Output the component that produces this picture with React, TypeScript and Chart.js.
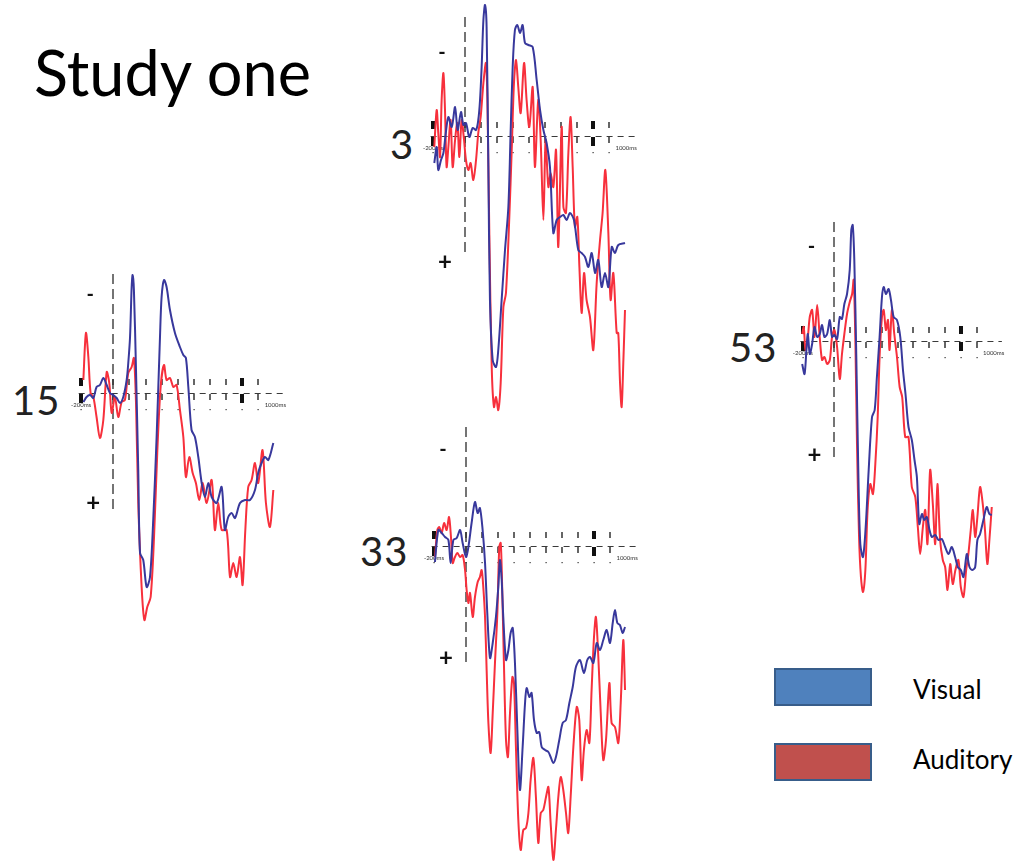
import React, { useEffect, useRef } from "react";
import { Chart, registerables } from "chart.js";
Chart.register(...registerables);

// ---- data: [time in ms, amplitude in µV] (negative plotted up) ----
const p15Visual: [number, number][] = [[-186,0.9],[-166,0.4],[-145,0.2],[-124,0.5],[-104,-0.6],[-83,-0.8],[-62,-1.5],[-41,-0.8],[-21,0.0],[0,0.2],[21,0.5],[41,1.0],[62,0.4],[83,-1.3],[93,-3.0],[104,-5.6],[114,-10.6],[120,-11.8],[128,-10.3],[141,-2.3],[155,7.7],[166,16.0],[186,16.7],[207,19.4],[228,18.4],[248,12.7],[269,4.4],[290,-5.6],[300,-9.6],[315,-11.3],[331,-10.6],[352,-8.3],[383,-6.0],[414,-4.6],[435,-3.8],[451,-3.5],[466,-0.6],[486,3.7],[507,4.4],[528,6.4],[549,9.0],[569,10.4],[590,9.0],[611,10.4],[642,11.0],[673,9.4],[693,13.7],[714,12.4],[735,12.0],[756,12.5],[787,11.0],[818,10.7],[849,10.7],[880,9.7],[900,8.0],[921,7.0],[942,6.4],[963,6.7],[994,5.0]];
const p15Auditory: [number, number][] = [[-186,-1.3],[-170,-6.0],[-155,-3.6],[-141,0.0],[-124,0.4],[-104,2.4],[-83,4.5],[-62,2.7],[-41,-2.1],[-25,-1.0],[-10,2.0],[10,0.4],[31,2.4],[52,0.9],[72,0.7],[93,-2.0],[114,-2.6],[128,-3.5],[141,1.0],[155,11.0],[176,19.4],[193,22.7],[211,21.4],[232,20.4],[253,14.4],[273,6.0],[294,-0.6],[315,-2.8],[331,-1.3],[352,-1.5],[373,-0.6],[393,-0.8],[414,1.7],[435,4.4],[451,8.4],[472,6.4],[493,8.0],[513,9.0],[534,10.7],[555,9.0],[580,11.0],[611,8.7],[631,13.7],[652,11.0],[673,13.7],[704,13.7],[725,18.4],[745,17.0],[766,18.4],[787,16.4],[803,19.2],[820,13.7],[838,9.4],[859,8.7],[880,7.0],[900,9.0],[927,5.7],[948,11.0],[973,13.4],[994,9.7]];

const p3Visual: [number, number][] = [[-192,2.7],[-177,1.1],[-167,3.4],[-150,2.4],[-135,1.7],[-120,-0.3],[-104,-1.9],[-83,-0.9],[-62,-2.9],[-46,-0.6],[-25,-2.4],[-10,-1.1],[6,-1.3],[27,0.1],[48,-0.8],[69,-0.6],[83,-1.6],[94,-3.6],[104,-6.9],[115,-11.6],[125,-13.1],[135,-10.9],[146,3.1],[156,16.4],[173,22.4],[194,23.1],[208,21.4],[229,16.4],[250,11.4],[271,7.1],[285,-0.3],[298,-6.9],[312,-10.6],[327,-11.1],[344,-10.3],[360,-11.1],[375,-9.3],[396,-9.1],[423,-8.9],[448,-5.6],[469,-2.6],[490,-0.6],[510,0.7],[531,3.1],[552,9.7],[573,8.4],[594,8.1],[615,7.9],[635,8.4],[656,7.7],[681,8.4],[708,11.4],[729,11.7],[750,12.1],[771,13.1],[792,11.7],[813,13.7],[833,12.4],[854,15.1],[875,13.7],[896,15.1],[917,11.1],[937,11.7],[958,10.9],[1000,10.7]];
const p3Auditory: [number, number][] = [[-192,1.1],[-177,-2.6],[-167,-0.3],[-156,2.1],[-146,-3.6],[-135,-6.3],[-125,-2.6],[-115,3.1],[-104,1.1],[-90,-1.6],[-77,3.1],[-62,0.4],[-48,-1.3],[-35,2.1],[-21,-1.6],[-6,0.4],[6,2.4],[21,3.4],[35,2.7],[52,4.4],[69,2.4],[83,-0.3],[98,-1.9],[115,-5.3],[131,-7.3],[140,-3.6],[152,9.7],[167,23.1],[181,27.1],[194,26.1],[208,27.4],[223,24.7],[240,17.1],[256,15.7],[277,8.1],[292,1.4],[306,-5.3],[319,-7.6],[333,-4.9],[348,-2.3],[369,-7.3],[385,-3.6],[402,-0.9],[423,-4.9],[437,3.1],[458,-3.6],[473,0.4],[490,8.4],[504,0.4],[521,5.1],[535,3.7],[552,5.1],[569,1.4],[583,11.1],[604,-0.9],[615,7.1],[631,7.7],[646,1.7],[660,-1.9],[673,3.1],[687,9.1],[702,8.1],[715,13.1],[729,17.7],[744,13.7],[760,16.4],[781,18.1],[802,21.4],[823,14.7],[844,10.4],[860,7.7],[877,3.4],[896,9.7],[910,16.4],[927,13.7],[948,19.7],[958,19.7],[969,24.7],[979,27.1],[990,22.4],[1000,17.4]];

const p33Visual: [number, number][] = [[-194,1.6],[-173,-1.6],[-152,-1.3],[-131,-0.9],[-110,-0.6],[-96,1.7],[-79,-0.6],[-58,-0.8],[-37,-1.6],[-21,-0.3],[0,1.1],[15,0.1],[35,-2.3],[56,-4.4],[73,-3.3],[87,-3.8],[104,-1.6],[119,1.7],[133,6.7],[150,11.2],[167,9.7],[187,7.1],[202,4.1],[212,1.4],[223,3.4],[233,7.1],[250,11.4],[265,10.4],[279,8.7],[292,8.2],[306,11.7],[321,18.4],[337,24.4],[354,20.1],[369,15.7],[379,14.2],[396,15.1],[410,14.7],[425,17.4],[442,18.7],[458,18.6],[473,20.1],[494,20.4],[515,20.6],[529,21.1],[546,21.7],[562,21.1],[583,19.4],[604,17.7],[625,17.4],[646,15.7],[667,14.1],[687,12.1],[712,11.4],[737,12.7],[758,11.4],[775,11.1],[796,11.7],[817,9.7],[837,10.4],[858,9.4],[879,8.4],[900,9.7],[917,7.7],[931,6.4],[946,7.7],[962,7.9],[979,8.7],[994,8.1]];
const p33Auditory: [number, number][] = [[-194,1.1],[-179,-1.6],[-167,-1.9],[-152,-1.3],[-137,-2.3],[-121,-1.6],[-106,-2.9],[-94,-0.9],[-83,1.7],[-69,1.1],[-54,0.7],[-37,1.1],[-21,0.9],[-6,2.4],[4,4.4],[15,5.7],[25,4.7],[42,7.1],[56,5.1],[73,3.6],[87,3.1],[98,2.4],[108,4.1],[119,7.1],[129,12.4],[140,17.7],[154,20.7],[167,16.7],[181,11.7],[196,6.7],[208,0.1],[217,-0.3],[225,3.4],[237,11.7],[250,19.4],[262,21.1],[275,16.7],[290,13.1],[300,13.7],[312,20.1],[327,27.4],[342,30.4],[358,28.4],[375,28.2],[390,26.7],[404,23.4],[421,21.2],[437,25.1],[452,29.7],[467,26.7],[483,26.4],[500,25.1],[515,24.1],[529,27.7],[546,31.4],[562,28.4],[577,25.1],[592,23.1],[608,24.4],[625,26.7],[639,28.7],[654,25.1],[671,20.1],[692,16.1],[708,17.4],[723,23.4],[737,20.4],[754,18.4],[771,19.7],[785,14.4],[800,9.1],[812,7.1],[827,11.1],[842,16.7],[858,21.4],[875,19.4],[896,13.7],[910,17.7],[931,18.1],[952,19.7],[967,15.7],[983,9.4],[994,14.4]];

const p53Visual: [number, number][] = [[-204,2.3],[-189,3.3],[-177,0.9],[-168,-0.7],[-156,1.3],[-141,0.3],[-126,-1.4],[-109,-0.4],[-93,-0.7],[-78,-1.6],[-63,-0.4],[-46,-0.7],[-29,-2.1],[-15,-0.4],[0,-0.6],[17,-0.2],[34,-2.4],[48,-2.2],[63,-3.7],[80,-4.7],[97,-7.1],[107,-11.1],[116,-11.6],[126,-8.1],[139,1.9],[152,13.6],[164,20.3],[181,21.6],[198,18.6],[217,12.9],[238,7.6],[255,6.9],[269,3.6],[286,-0.4],[301,-4.4],[312,-5.4],[326,-4.7],[343,-5.2],[358,-4.1],[375,-2.4],[396,-2.1],[417,-0.4],[434,2.9],[450,5.3],[469,8.6],[490,9.9],[507,11.9],[522,13.6],[537,18.3],[554,17.3],[568,17.9],[585,17.6],[602,18.9],[617,19.6],[638,19.4],[659,19.9],[680,19.8],[701,20.6],[722,21.3],[743,20.6],[764,21.6],[781,22.6],[800,22.9],[817,23.6],[838,21.3],[855,22.6],[874,22.9],[891,22.6],[905,19.9],[922,19.3],[943,17.9],[964,16.6],[981,17.3],[996,17.4]];
const p53Auditory: [number, number][] = [[-204,-0.7],[-194,-1.4],[-183,0.9],[-168,-0.4],[-156,-2.4],[-141,-3.1],[-126,-0.4],[-109,-3.6],[-93,-0.4],[-78,1.9],[-63,1.6],[-46,2.3],[-29,1.9],[-15,-0.4],[0,-1.1],[17,0.6],[34,3.8],[48,1.3],[63,-0.7],[80,-2.7],[97,-3.9],[112,-4.7],[122,-6.1],[133,0.3],[143,10.3],[156,19.6],[168,23.6],[181,25.1],[196,22.9],[210,16.9],[227,14.3],[244,15.3],[259,12.3],[274,7.6],[286,1.6],[301,-2.4],[312,-3.1],[326,-1.1],[339,-2.1],[349,0.9],[364,-3.1],[379,-0.7],[396,1.6],[413,4.6],[429,5.6],[448,9.6],[469,9.6],[490,14.6],[512,15.6],[528,18.6],[543,21.3],[560,18.6],[575,16.9],[589,20.3],[606,12.9],[623,16.3],[638,20.3],[652,14.3],[669,19.9],[686,21.9],[701,22.6],[716,24.9],[733,22.3],[749,24.3],[766,22.9],[785,21.9],[800,24.6],[817,25.6],[834,22.9],[848,21.3],[863,18.9],[876,16.9],[891,19.6],[905,17.6],[922,14.6],[939,16.3],[953,18.9],[968,22.3],[981,19.9],[996,16.6]];

const seriesNames = ["Visual", "Auditory"];
const panelNames = ["15", "3", "33", "53"];
const tickTimes = [-200, 0, 100, 200, 300, 400, 500, 600, 700, 800, 900];
const boldTickTimes = [-200, 800];
const startLabel = "-200ms";
const endLabel = "1000ms";
const titleText = "Study one";

// ---- styles / layout ----
const BLUE = "#38389c";
const RED = "#f7303c";
const FONT = "Lato, 'Open Sans', sans-serif";
const X_MIN = -300;
const CANVAS_W = 250;
const Y_MIN = -14;
const Y_MAX = 32;
const CANVAS_H = 460;

type PanelCfg = {
  name: string; visual: [number, number][]; auditory: [number, number][];
  x0: number; y0: number; pxPerMs: number; minusV: number; plusV: number;
  labelLeft: number; labelCy: number;
};

const panels: PanelCfg[] = [
  { name: panelNames[0], visual: p15Visual, auditory: p15Auditory, x0: 113.3, y0: 393, pxPerMs: 0.161, minusV: -9.8, plusV: 11.0, labelLeft: 12, labelCy: 401 },
  { name: panelNames[1], visual: p3Visual, auditory: p3Auditory, x0: 465, y0: 136, pxPerMs: 0.16, minusV: -8.3, plusV: 12.6, labelLeft: 390, labelCy: 145 },
  { name: panelNames[2], visual: p33Visual, auditory: p33Auditory, x0: 466, y0: 546, pxPerMs: 0.16, minusV: -9.6, plusV: 11.2, labelLeft: 360, labelCy: 552 },
  { name: panelNames[3], visual: p53Visual, auditory: p53Auditory, x0: 834, y0: 341, pxPerMs: 0.158, minusV: -9.4, plusV: 11.4, labelLeft: 729, labelCy: 348 },
];

function makeAxisPlugin(cfg: PanelCfg) {
  return {
    id: "erpAxes",
    beforeDatasetsDraw(chart: any) {
      const { ctx, scales } = chart;
      const x = scales.x, y = scales.y;
      const px0 = x.getPixelForValue(0);
      const py0 = Math.round(y.getPixelForValue(0));
      ctx.save();
      // vertical dashed line at stimulus onset
      ctx.strokeStyle = "#747474";
      ctx.lineWidth = 2;
      ctx.setLineDash([10, 5]);
      ctx.beginPath();
      ctx.moveTo(Math.round(px0), y.getPixelForValue(-11.9));
      ctx.lineTo(Math.round(px0), y.getPixelForValue(11.9));
      ctx.stroke();
      // dashed baseline
      ctx.strokeStyle = "#3a3a3a";
      ctx.lineWidth = 1;
      ctx.setLineDash([6, 5]);
      ctx.beginPath();
      ctx.moveTo(x.getPixelForValue(-215), py0 + 0.5);
      ctx.lineTo(x.getPixelForValue(1060), py0 + 0.5);
      ctx.stroke();
      ctx.setLineDash([]);
      // ticks
      ctx.strokeStyle = "#333";
      ctx.fillStyle = "#333";
      ctx.lineWidth = 1.5;
      for (const t of tickTimes) {
        const px = Math.round(x.getPixelForValue(t));
        ctx.beginPath();
        ctx.moveTo(px, py0 - 14);
        ctx.lineTo(px, py0 - 8);
        ctx.moveTo(px, py0 + 1);
        ctx.lineTo(px, py0 + 7);
        ctx.stroke();
        ctx.fillRect(px - 0.5, py0 + 16, 1.2, 1.2);
      }
      for (const t of boldTickTimes) {
        const px = Math.round(x.getPixelForValue(t));
        ctx.fillStyle = "#111";
        ctx.fillRect(px - 2, py0 - 15, 4, 8);
        ctx.fillRect(px - 2, py0 + 1, 4, 9);
      }
      // small ms labels
      ctx.fillStyle = "#333";
      ctx.font = `6px ${FONT}`;
      ctx.textBaseline = "middle";
      ctx.textAlign = "center";
      ctx.fillText(startLabel, x.getPixelForValue(-200), py0 + 12);
      ctx.textAlign = "left";
      ctx.fillText(endLabel, x.getPixelForValue(940), py0 + 12);
      // polarity markers
      ctx.fillStyle = "#111";
      ctx.font = `bold 20px ${FONT}`;
      ctx.textAlign = "center";
      ctx.fillText("-", px0 - 23, y.getPixelForValue(cfg.minusV));
      ctx.font = `bold 24px ${FONT}`;
      ctx.fillText("+", px0 - 20, y.getPixelForValue(cfg.plusV));
      ctx.restore();
    },
  };
}

function ErpPanel({ cfg }: { cfg: PanelCfg }) {
  const ref = useRef<HTMLCanvasElement | null>(null);
  const xMax = X_MIN + CANVAS_W / cfg.pxPerMs;
  const left = cfg.x0 + X_MIN * cfg.pxPerMs;
  const top = cfg.y0 + Y_MIN * (CANVAS_H / (Y_MAX - Y_MIN));
  useEffect(() => {
    if (!ref.current) return;
    const toPts = (arr: [number, number][]) => arr.map(([t, v]) => ({ x: t, y: v }));
    const chart = new Chart(ref.current, {
      type: "line",
      data: {
        datasets: [
          { label: seriesNames[0], data: toPts(cfg.visual), borderColor: BLUE, borderWidth: 2, pointRadius: 0, tension: 0.3, fill: false },
          { label: seriesNames[1], data: toPts(cfg.auditory), borderColor: RED, borderWidth: 2, pointRadius: 0, tension: 0.3, fill: false },
        ],
      },
      options: {
        animation: false,
        responsive: false,
        maintainAspectRatio: false,
        layout: { padding: 0 },
        plugins: { legend: { display: false }, tooltip: { enabled: false } },
        scales: {
          x: { type: "linear", min: X_MIN, max: xMax, display: false },
          y: { type: "linear", min: Y_MIN, max: Y_MAX, reverse: true, display: false },
        },
      },
      plugins: [makeAxisPlugin(cfg)],
    } as any);
    return () => chart.destroy();
  }, []);
  return (
    <canvas
      ref={ref}
      width={CANVAS_W}
      height={CANVAS_H}
      style={{ position: "absolute", left, top, width: CANVAS_W, height: CANVAS_H }}
    />
  );
}

const legendColors = ["#4f81bd", "#c0504d"];

export default function App() {
  return (
    <div
      style={{
        position: "absolute", left: 0, top: 0, width: 1023, height: 865,
        overflow: "hidden", background: "#fff", fontFamily: FONT, color: "#000",
      }}
    >
      <div style={{ position: "absolute", left: 34, top: 40, fontSize: 63, lineHeight: "63px", whiteSpace: "nowrap" }}>
        {titleText}
      </div>
      {panels.map((p) => (
        <ErpPanel key={p.name} cfg={p} />
      ))}
      {panels.map((p) => (
        <div key={"l" + p.name} style={{ position: "absolute", left: p.labelLeft, top: p.labelCy - 21, fontSize: 40, lineHeight: "40px", color: "#222", letterSpacing: 1 }}>
          {p.name}
        </div>
      ))}
      {seriesNames.map((s, i) => (
        <React.Fragment key={s}>
          <div
            style={{
              position: "absolute", left: 774, top: 668 + i * 75, width: 98, height: 38,
              boxSizing: "border-box", background: legendColors[i], border: "2px solid #385d8a",
            }}
          />
          <div style={{ position: "absolute", left: 913, top: 676 + i * 70, fontSize: 26, lineHeight: "26px", whiteSpace: "nowrap" }}>
            {s}
          </div>
        </React.Fragment>
      ))}
    </div>
  );
}
